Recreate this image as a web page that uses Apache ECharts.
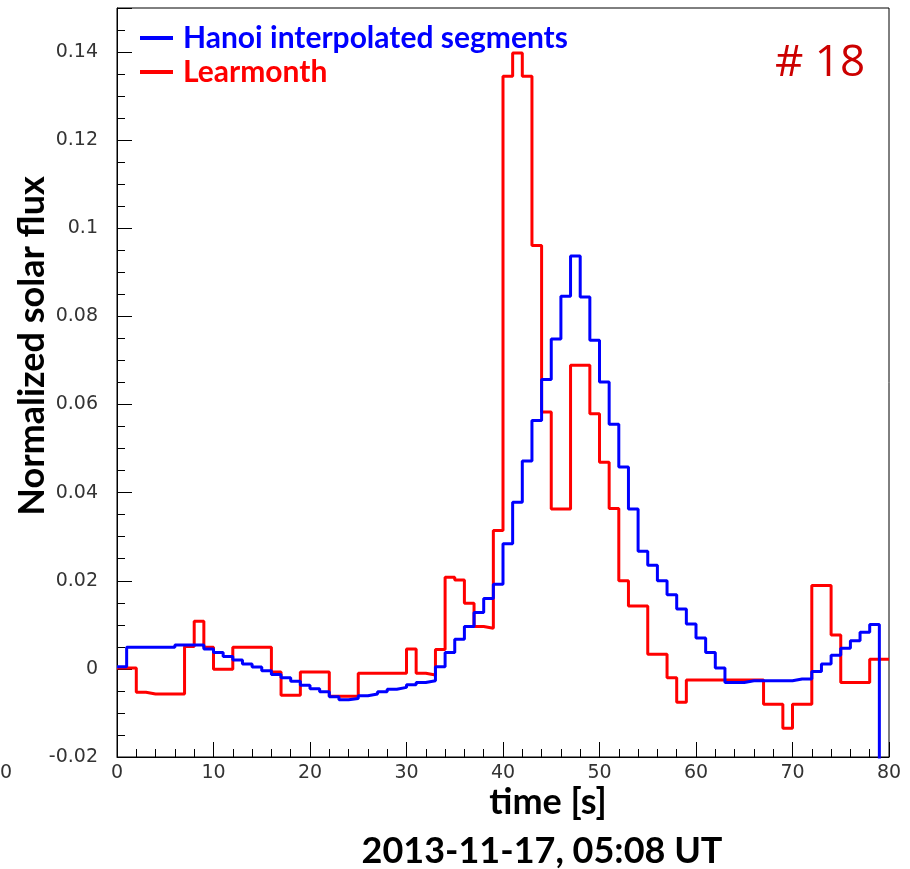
<!DOCTYPE html>
<html><head><meta charset="utf-8">
<script src="https://cdn.jsdelivr.net/npm/echarts@6/dist/echarts.min.js"></script>
<style>html,body{margin:0;padding:0;background:#fff}#chart{width:910px;height:869px}</style>
</head><body><div id="chart"></div><script>
// Normalized solar flux, 1-second bins starting at t = 0 s
const binWidth = 1;

const hanoiName = 'Hanoi interpolated segments';
const hanoiFlux = [
  0.0005, 0.0049, 0.0049, 0.0049, 0.0049, 0.0049, 0.0054, 0.0054, 0.0054, 0.0045,
  0.0037, 0.0028, 0.0020, 0.0011, 0.0004, -0.0004, -0.0013, -0.0020, -0.0028, -0.0037,
  -0.0045, -0.0052, -0.0063, -0.0070, -0.0067, -0.0061, -0.0057, -0.0052, -0.0046, -0.0042,
  -0.0036, -0.0031, -0.0027, 0.0005, 0.0037, 0.0067, 0.0096, 0.0128, 0.0160, 0.0192,
  0.0284, 0.0378, 0.0472, 0.0564, 0.0657, 0.0749, 0.0846, 0.0937, 0.0844, 0.0746,
  0.0651, 0.0555, 0.0458, 0.0363, 0.0267, 0.0235, 0.0200, 0.0168, 0.0136, 0.0102,
  0.0070, 0.0037, 0.0002, -0.0031, -0.0031, -0.0027, -0.0027, -0.0027, -0.0027, -0.0027,
  -0.0023, -0.0023, -0.0006, 0.0011, 0.0031, 0.0047, 0.0064, 0.0083, 0.0101, -0.0500
];

const learmonthName = 'Learmonth';
const learmonthFlux = [
  0.0002, 0.0002, -0.0053, -0.0057, -0.0057, -0.0057, -0.0057, 0.0051, 0.0108, 0.0049,
  -0.0001, -0.0001, 0.0049, 0.0049, 0.0049, 0.0049, -0.0007, -0.0060, -0.0060, -0.0007,
  -0.0007, -0.0007, -0.0062, -0.0062, -0.0062, -0.0010, -0.0010, -0.0010, -0.0010, -0.0010,
  0.0045, -0.0010, -0.0014, 0.0044, 0.0208, 0.0202, 0.0149, 0.0096, 0.0092, 0.0314,
  0.1345, 0.1398, 0.1345, 0.0961, 0.0583, 0.0363, 0.0363, 0.0689, 0.0689, 0.0579,
  0.0469, 0.0364, 0.0200, 0.0143, 0.0143, 0.0033, 0.0033, -0.0020, -0.0076, -0.0025,
  -0.0025, -0.0025, -0.0025, -0.0025, -0.0025, -0.0025, -0.0025, -0.0080, -0.0080, -0.0135,
  -0.0080, -0.0080, 0.0189, 0.0189, 0.0077, -0.0031, -0.0031, -0.0031, 0.0022, 0.0022
];

const xTicks = [0, 10, 20, 30, 40, 50, 60, 70, 80];
const yTickLabels = ['-0.02', '0', '0.02', '0.04', '0.06', '0.08', '0.1', '0.12', '0.14'];

const eventTag = '# 18';
const xTitle = 'time [s]';
const yTitle = 'Normalized solar flux';
const dateTitle = '2013-11-17, 05:08 UT';

// Histogram outline: each bin drawn flat from its left edge to the next edge
function histogram(values) {
  const pts = values.map((v, i) => [i * binWidth, v]);
  pts.push([values.length * binWidth, values[values.length - 1]]);
  return pts;
}

const titleFont = 'bold 36px Lato, "Open Sans", sans-serif';
const tickFont = { fontFamily: '"DejaVu Sans", sans-serif', fontSize: 19, color: '#333' };

const chart = echarts.init(document.getElementById('chart'), null, { renderer: 'canvas' });
chart.setOption({
  animation: false,
  backgroundColor: '#fff',
  grid: { left: 117, top: 8, right: 21, bottom: 112, show: true, borderColor: '#000', borderWidth: 1, backgroundColor: 'transparent' },
  xAxis: {
    type: 'value', min: xTicks[0], max: xTicks[xTicks.length - 1], interval: 10,
    axisLine: { onZero: false, lineStyle: { color: '#000', width: 1 } },
    axisTick: { inside: true, length: 15, lineStyle: { color: '#000' } },
    minorTick: { show: true, splitNumber: 5, length: 8, lineStyle: { color: '#000' } },
    splitLine: { show: false },
    axisLabel: Object.assign({ margin: 7 }, tickFont)
  },
  yAxis: {
    type: 'value', min: -0.02, max: 0.15, interval: 0.02,
    axisLine: { show: true, onZero: false, lineStyle: { color: '#000', width: 1 } },
    axisTick: { show: true, inside: true, length: 15, lineStyle: { color: '#000' } },
    minorTick: { show: true, splitNumber: 4, length: 8, lineStyle: { color: '#000' } },
    splitLine: { show: false },
    axisLabel: Object.assign({
      margin: 19, showMaxLabel: false,
      formatter: (v) => {
        const i = Math.round((v + 0.02) / 0.02);
        return yTickLabels[i] !== undefined ? yTickLabels[i] : '';
      }
    }, tickFont)
  },
  legend: {
    orient: 'vertical', left: 140, top: 23, itemGap: 4, padding: 0,
    icon: 'rect', itemWidth: 33, itemHeight: 4,
    textStyle: { fontFamily: 'Lato, "Open Sans", sans-serif', fontWeight: 'bold', fontSize: 30, lineHeight: 30, padding: [0, 0, 0, 5] },
    data: [
      { name: hanoiName, textStyle: { color: '#0000ff' } },
      { name: learmonthName, textStyle: { color: '#ff0000' } }
    ]
  },
  series: [
    {
      name: learmonthName, type: 'line', step: 'end', symbol: 'none', clip: true,
      color: '#ff0000', lineStyle: { color: '#ff0000', width: 3 },
      data: histogram(learmonthFlux), z: 2
    },
    {
      name: hanoiName, type: 'line', step: 'end', symbol: 'none', clip: true,
      color: '#0000ff', lineStyle: { color: '#0000ff', width: 3 },
      data: histogram(hanoiFlux), z: 3
    }
  ],
  graphic: [
    { type: 'text', x: 820, y: 63, style: { text: eventTag, font: '44px "Open Sans", Lato, sans-serif', fill: '#cc0000', textAlign: 'center', textVerticalAlign: 'middle' } },
    { type: 'text', x: 548, y: 802, style: { text: xTitle, font: titleFont, fill: '#000', textAlign: 'center', textVerticalAlign: 'middle' } },
    { type: 'text', x: 542, y: 851, style: { text: dateTitle, font: titleFont, fill: '#000', textAlign: 'center', textVerticalAlign: 'middle' } },
    { type: 'text', x: 32, y: 346, rotation: Math.PI / 2, style: { text: yTitle, font: titleFont, fill: '#000', textAlign: 'center', textVerticalAlign: 'middle' } },
    { type: 'text', x: 6, y: 773, style: { text: '0', font: '19px "DejaVu Sans", sans-serif', fill: '#333', textAlign: 'center', textVerticalAlign: 'middle' } }
  ]
});
</script></body></html>
